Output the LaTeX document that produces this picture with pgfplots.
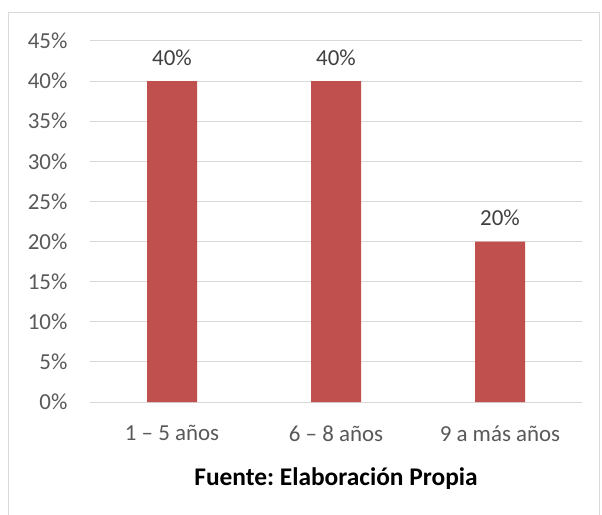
\documentclass[border=0pt]{standalone}
\usepackage{pgfplots}
\pgfplotsset{compat=1.18}
\usepackage{fontspec}
\setmainfont{Carlito}
\frenchspacing
\definecolor{barred}{HTML}{C0504D}
\definecolor{gridgray}{HTML}{D9D9D9}
\definecolor{ticktxt}{HTML}{595959}
\definecolor{lbltxt}{HTML}{404040}
\definecolor{framegray}{HTML}{D9D9D9}

\pgfplotstableread{
x val
0 40
1 40
2 20
}\datatable

\begin{document}
\begin{tikzpicture}
\useasboundingbox (0bp,0bp) rectangle (602bp,515bp);
\fill[white] (0bp,0bp) rectangle (602bp,515bp);
\draw[framegray, line width=1bp] (8.5bp,-5bp) rectangle (599.5bp,502.5bp);
\begin{axis}[
  at={(90bp,113bp)}, anchor=south west,
  scale only axis,
  width=492bp, height=361bp,
  xmin=-0.5, xmax=2.5,
  ymin=0, ymax=45,
  ytick={0,5,...,45},
  yticklabel={\pgfmathprintnumber{\tick}\%},
  xtick=data,
  xticklabels={1 – 5 años, 6 – 8 años, 9 a más años},
  axis x line*=bottom,
  axis y line*=left,
  y axis line style={draw=none},
  x axis line style={gridgray, line width=1bp, -},
  ymajorgrids,
  grid style={gridgray, line width=1bp},
  major tick length=0pt,
  tick style={draw=none},
  /pgf/number format/assume math mode=true,
  ticklabel style={font=\fontsize{23}{27}\selectfont, text=ticktxt},
  yticklabel style={xshift=-19bp},
  xticklabel style={yshift=-20bp},
  xlabel={\textbf{Fuente: Elaboración Propia}},
  xlabel style={font=\fontsize{25.5}{30}\selectfont, text=black, yshift=-19bp},
  ybar, bar width=50bp,
  nodes near coords={\pgfmathprintnumber{\pgfplotspointmeta}\%},
  nodes near coords style={font=\fontsize{23}{27}\selectfont, text=lbltxt, yshift=12bp},
  clip=false,
]
\addplot[fill=barred, draw=none, bar shift=0pt] table[x=x, y=val] {\datatable};
\end{axis}
\end{tikzpicture}
\end{document}
